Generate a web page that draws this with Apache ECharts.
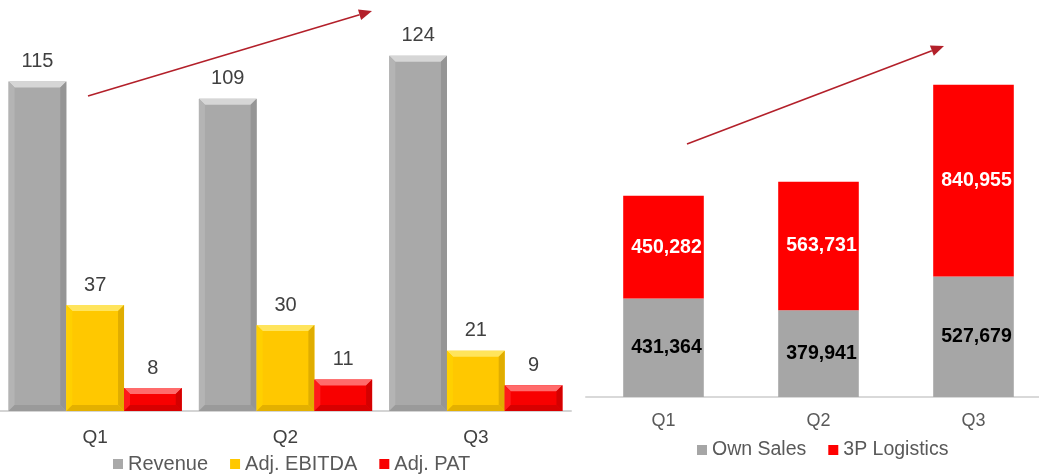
<!DOCTYPE html>
<html>
<head>
<meta charset="utf-8">
<script src="https://cdn.jsdelivr.net/npm/echarts@6/dist/echarts.min.js"></script>
<style>
  html, body { margin: 0; padding: 0; background: #ffffff; }
  #chart { width: 1039px; height: 474px; }
</style>
</head>
<body>
<div id="chart"></div>
<script>
// Quarterly figures
const quarters = ['Q1', 'Q2', 'Q3'];
const revenue = [115, 109, 124];
const adjEbitda = [37, 30, 21];
const adjPat = [8, 11, 9];

const ownSales = [431364, 379941, 527679];
const logistics3P = [450282, 563731, 840955];

const FONT = 'Arial, "Liberation Sans", Helvetica, sans-serif';
const GROUP_GAP = 0.09; // share of each category band left empty on the left chart

// Bevelled bar palettes: face, top, left, right, bottom
const palettes = {
  gray:   { face: '#a9a9a9', top: '#d6d6d6', left: '#b4b4b4', right: '#959595', bottom: '#9a9a9a' },
  yellow: { face: '#ffc800', top: '#ffe45c', left: '#ffd000', right: '#e0ad00', bottom: '#e3b000' },
  red:    { face: '#f80000', top: '#ff6b6b', left: '#ff1a1a', right: '#d40000', bottom: '#d80000' }
};

function bevelBar(slot, pal) {
  return function (params, api) {
    const cat = api.value(0);
    const val = api.value(1);
    const base = api.coord([cat, 0]);
    const tip = api.coord([cat, val]);
    const band = api.size([1, 0])[0];
    const w = band * (1 - GROUP_GAP) / 3;
    const x0 = base[0] + (slot - 1) * w - w / 2;
    const x1 = x0 + w;
    const yb = base[1];
    const yt = tip[1];
    const b = Math.min(6, (yb - yt) / 2);
    return {
      type: 'group',
      children: [
        { type: 'rect', shape: { x: x0, y: yt, width: w, height: yb - yt }, style: { fill: pal.face } },
        { type: 'polygon', shape: { points: [[x0, yt], [x1, yt], [x1 - b, yt + b], [x0 + b, yt + b]] }, style: { fill: pal.top } },
        { type: 'polygon', shape: { points: [[x0, yt], [x0 + b, yt + b], [x0 + b, yb - b], [x0, yb]] }, style: { fill: pal.left } },
        { type: 'polygon', shape: { points: [[x1, yt], [x1, yb], [x1 - b, yb - b], [x1 - b, yt + b]] }, style: { fill: pal.right } },
        { type: 'polygon', shape: { points: [[x0, yb], [x0 + b, yb - b], [x1 - b, yb - b], [x1, yb]] }, style: { fill: pal.bottom } },
        {
          type: 'text',
          x: (x0 + x1) / 2,
          y: yt - 10,
          style: {
            text: String(val),
            fill: '#404040',
            fontSize: 20,
            fontFamily: FONT,
            align: 'center',
            verticalAlign: 'bottom'
          }
        }
      ]
    };
  };
}

function pairs(values) {
  return values.map(function (v, i) { return [i, v]; });
}

function arrow(x1, y1, x2, y2, color) {
  const ang = Math.atan2(y2 - y1, x2 - x1);
  const len = 13, half = 5.5;
  const bx = x2 - len * Math.cos(ang), by = y2 - len * Math.sin(ang);
  const nx = -Math.sin(ang), ny = Math.cos(ang);
  return [
    { type: 'line', shape: { x1: x1, y1: y1, x2: bx, y2: by }, style: { stroke: color, lineWidth: 1.6 } },
    { type: 'polygon', shape: { points: [[x2, y2], [bx + nx * half, by + ny * half], [bx - nx * half, by - ny * half]] }, style: { fill: color } }
  ];
}

const arrowColor = '#b3202a';

const chart = echarts.init(document.getElementById('chart'));

chart.setOption({
  backgroundColor: '#ffffff',
  animation: false,
  textStyle: { fontFamily: FONT },
  grid: [
    { left: 0, right: 468, top: 10, bottom: 63, outerBoundsMode: 'none' },
    // the right plot runs past the page edge, so its last band is cut off
    { left: 586, width: 465, top: 32, bottom: 77, outerBoundsMode: 'none' }
  ],
  xAxis: [
    {
      type: 'category', gridIndex: 0, data: quarters,
      axisLine: { lineStyle: { color: '#d4d4d4', width: 2 } },
      axisTick: { show: false },
      axisLabel: { color: '#404040', fontSize: 19, fontFamily: FONT, margin: 17 }
    },
    {
      type: 'category', gridIndex: 1, data: quarters,
      axisLine: { lineStyle: { color: '#d9d9d9', width: 2 } },
      axisTick: { show: false },
      axisLabel: { color: '#595959', fontSize: 18, fontFamily: FONT, margin: 15 }
    }
  ],
  yAxis: [
    { type: 'value', gridIndex: 0, min: 0, max: 140, show: false },
    { type: 'value', gridIndex: 1, min: 0, max: 1600000, show: false }
  ],
  legend: [
    {
      data: ['Revenue', 'Adj. EBITDA', 'Adj. PAT'],
      left: 108, top: 449,
      icon: 'rect', itemWidth: 10, itemHeight: 10, itemGap: 22,
      textStyle: { color: '#595959', fontSize: 20, fontFamily: FONT }
    },
    {
      data: ['Own Sales', '3P Logistics'],
      left: 692, top: 435,
      icon: 'rect', itemWidth: 10, itemHeight: 10, itemGap: 22,
      textStyle: { color: '#595959', fontSize: 19.5, fontFamily: FONT }
    }
  ],
  series: [
    {
      name: 'Revenue', type: 'custom', xAxisIndex: 0, yAxisIndex: 0,
      itemStyle: { color: palettes.gray.face },
      encode: { x: 0, y: 1 },
      renderItem: bevelBar(0, palettes.gray),
      data: pairs(revenue)
    },
    {
      name: 'Adj. EBITDA', type: 'custom', xAxisIndex: 0, yAxisIndex: 0,
      itemStyle: { color: palettes.yellow.face },
      encode: { x: 0, y: 1 },
      renderItem: bevelBar(1, palettes.yellow),
      data: pairs(adjEbitda)
    },
    {
      name: 'Adj. PAT', type: 'custom', xAxisIndex: 0, yAxisIndex: 0,
      itemStyle: { color: palettes.red.face },
      encode: { x: 0, y: 1 },
      renderItem: bevelBar(2, palettes.red),
      data: pairs(adjPat)
    },
    {
      name: 'Own Sales', type: 'bar', xAxisIndex: 1, yAxisIndex: 1,
      stack: 'volume', barWidth: '52%',
      itemStyle: { color: '#a6a6a6' },
      label: {
        show: true, position: 'inside', color: '#000000',
        fontSize: 19.5, fontWeight: 'bold', fontFamily: FONT, offset: [3, 0],
        formatter: function (p) { return p.value.toLocaleString('en-US'); }
      },
      data: ownSales
    },
    {
      name: '3P Logistics', type: 'bar', xAxisIndex: 1, yAxisIndex: 1,
      stack: 'volume', barWidth: '52%',
      itemStyle: { color: '#ff0000' },
      label: {
        show: true, position: 'inside', color: '#ffffff',
        fontSize: 19.5, fontWeight: 'bold', fontFamily: FONT, offset: [3, 0],
        formatter: function (p) { return p.value.toLocaleString('en-US'); }
      },
      data: logistics3P
    }
  ],
  graphic: [].concat(
    arrow(88, 96, 372, 11, arrowColor),
    arrow(687, 144, 944, 46, arrowColor)
  )
});
</script>
</body>
</html>
